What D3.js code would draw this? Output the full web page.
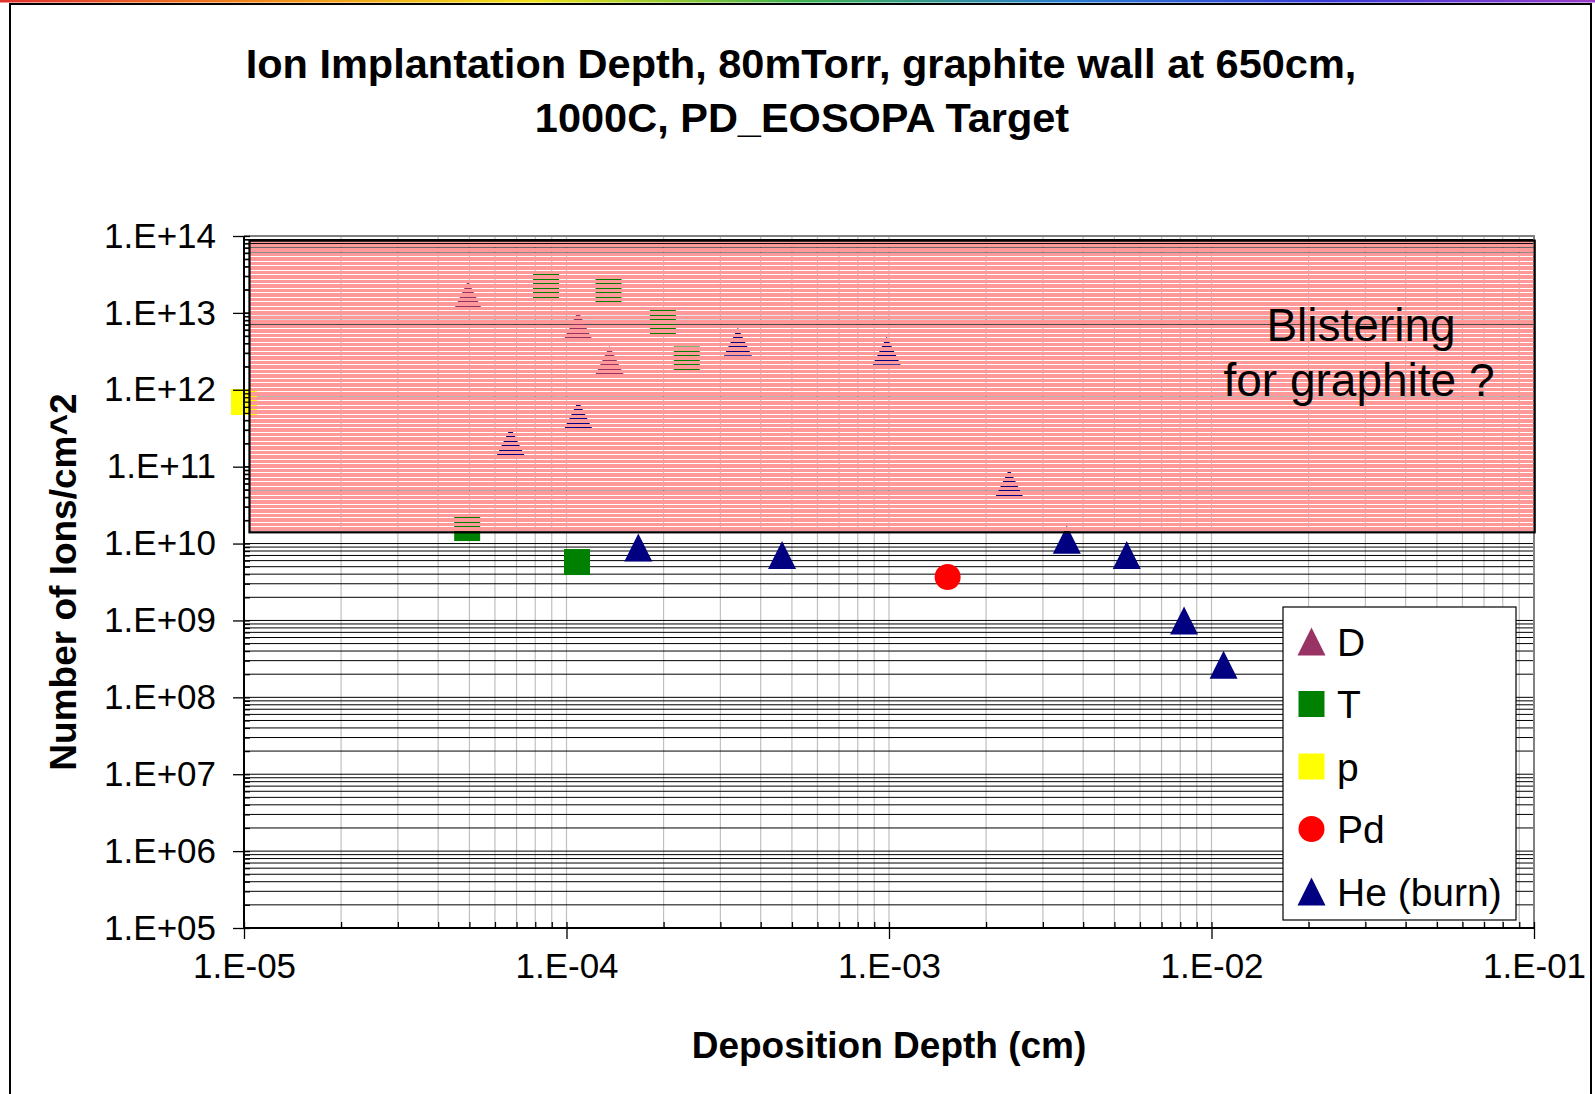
<!DOCTYPE html>
<html>
<head>
<meta charset="utf-8">
<script src="https://cdn.jsdelivr.net/npm/d3@7"></script>
<style>
  html, body { margin: 0; padding: 0; background: #fff; }
  svg { display: block; }
  text { font-family: "Liberation Sans", Arial, sans-serif; fill: #000; }
</style>
</head>
<body>
<svg id="chart" width="1595" height="1094"></svg>
<script>
// ---- data: implanted ion counts vs. deposition depth ----
const dDepth  = [4.95e-5, 1.086e-4, 1.36e-4];
const dIons   = [1.71e13, 6.96e12, 2.44e12];

const tDepth  = [4.92e-5, 8.64e-5, 1.078e-4, 1.35e-4, 1.99e-4, 2.36e-4];
const tIons   = [1.59e10, 2.17e13, 5.75e9, 1.93e13, 7.4e12, 2.48e12];

const pDepth  = [1.0e-5];
const pIons   = [6.93e11];

const pdDepth = [1.52e-3];
const pdIons  = [3.67e9];

const heDepth = [6.71e-5, 1.088e-4, 1.67e-4, 3.40e-4, 4.66e-4, 9.84e-4, 2.36e-3, 3.56e-3, 5.46e-3, 8.22e-3, 1.09e-2];
const heIons  = [2.12e11, 4.74e11, 8.9e9, 4.22e12, 7.1e9, 3.22e12, 6.13e10, 1.12e10, 7.1e9, 1.0e9, 2.66e8];

const seriesNames = ["D", "T", "p", "Pd", "He (burn)"];

// tick labels
const xTickValues = [1e-5, 1e-4, 1e-3, 1e-2, 1e-1];
const xTickLabels = ["1.E-05", "1.E-04", "1.E-03", "1.E-02", "1.E-01"];
const yTickValues = [1e5, 1e6, 1e7, 1e8, 1e9, 1e10, 1e11, 1e12, 1e13, 1e14];
const yTickLabels = ["1.E+05", "1.E+06", "1.E+07", "1.E+08", "1.E+09", "1.E+10", "1.E+11", "1.E+12", "1.E+13", "1.E+14"];

// shaded "blistering" zone (depth range, ion-count range)
const blisterDepth = [1.04e-5, 1.005e-1];
const blisterIons  = [1.4e10, 8.7e13];
const blisterText  = ["Blistering", "for graphite ?"];

const titleLines = ["Ion Implantation Depth, 80mTorr, graphite wall at 650cm,", "1000C, PD_EOSOPA Target"];
const xTitle = "Deposition Depth (cm)";
const yTitle = "Number of Ions/cm^2";

// ---- layout ----
const svg = d3.select("#chart");
const plot = { left: 244, right: 1534, top: 236, bottom: 928 };

const x = d3.scaleLog().domain([1e-5, 1e-1]).range([plot.left, plot.right]);
const y = d3.scaleLog().domain([1e5, 1e14]).range([plot.bottom, plot.top]);

// minor tick values (2..9 per decade)
function minorValues(lo, hi) {
  const out = [];
  for (let e = lo; e < hi; e++) for (let m = 2; m <= 9; m++) out.push(m * Math.pow(10, e));
  return out;
}
const xMinor = minorValues(-5, -1);
const yMinor = minorValues(5, 14);
const xAll = xMinor.concat(xTickValues);
const yAll = yMinor.concat(yTickValues);

const defs = svg.append("defs");

// rainbow strip along the top edge
const rg = defs.append("linearGradient").attr("id", "rainbow");
["#e0312f", "#f08a1c", "#f2e21b", "#3fb34f", "#2a7fd0", "#3b3bd6", "#9b3fc8"].forEach((c, i, a) =>
  rg.append("stop").attr("offset", i / (a.length - 1)).attr("stop-color", c));
svg.append("rect").attr("x", 0).attr("y", 0).attr("width", 1595).attr("height", 2.5).attr("fill", "url(#rainbow)");

// outer chart frame
svg.append("rect").attr("x", 10).attr("y", 4).attr("width", 1581).attr("height", 1100)
  .attr("fill", "#fff").attr("stroke", "#000").attr("stroke-width", 2);

// striped pink fill pattern with see-through one-pixel gaps
const pat = defs.append("pattern").attr("id", "stripes").attr("patternUnits", "userSpaceOnUse")
  .attr("width", 8).attr("height", 9);
pat.append("rect").attr("x", 0).attr("y", 1).attr("width", 8).attr("height", 3).attr("fill", "#ff9999")
  .attr("shape-rendering", "crispEdges");
pat.append("rect").attr("x", 0).attr("y", 5).attr("width", 8).attr("height", 4).attr("fill", "#ff9999")
  .attr("shape-rendering", "crispEdges");

const bx0 = x(blisterDepth[0]), bx1 = x(blisterDepth[1]);
const by0 = y(blisterIons[1]), by1 = y(blisterIons[0]);

// gridlines
const grid = svg.append("g");
grid.selectAll("line.v").data(xAll.filter(v => v > 1e-5 && v < 1e-1)).join("line")
  .attr("class", "v")
  .attr("x1", d => x(d)).attr("x2", d => x(d))
  .attr("y1", plot.top).attr("y2", plot.bottom)
  .attr("stroke", "#c0c0c0").attr("stroke-width", 1.2);
grid.selectAll("line.h").data(yAll.filter(v => v > 1e5)).join("line")
  .attr("class", "h")
  .attr("x1", plot.left).attr("x2", plot.right)
  .attr("y1", d => y(d)).attr("y2", d => y(d))
  .attr("stroke", "#000").attr("stroke-width", 1);

// plot area border (top / right)
svg.append("path")
  .attr("d", `M${plot.left},${plot.top}H${plot.right}V${plot.bottom}`)
  .attr("fill", "none").attr("stroke", "#808080").attr("stroke-width", 2);

// markers
const tri = "M0,-14L14,14L-14,14Z";
function markerPath(shape) {
  if (shape === "triangle") return tri;
  if (shape === "square") return "M-13,-13H13V13H-13Z";
  return d3.symbol().type(d3.symbolCircle).size(Math.PI * 13 * 13)();
}
const series = [
  { name: seriesNames[0], xs: dDepth,  ys: dIons,  shape: "triangle", color: "#993366" },
  { name: seriesNames[1], xs: tDepth,  ys: tIons,  shape: "square",   color: "#008000" },
  { name: seriesNames[2], xs: pDepth,  ys: pIons,  shape: "square",   color: "#ffff00" },
  { name: seriesNames[3], xs: pdDepth, ys: pdIons, shape: "circle",   color: "#ff0000" },
  { name: seriesNames[4], xs: heDepth, ys: heIons, shape: "triangle", color: "#000080" }
];
const mk = svg.append("g");
series.forEach(s => {
  mk.append("g").selectAll("path").data(s.xs.map((d, i) => [d, s.ys[i]])).join("path")
    .attr("d", markerPath(s.shape))
    .attr("transform", d => `translate(${x(d[0])},${y(d[1])})`)
    .attr("fill", s.color);
});

// blistering zone overlay (gridlines and markers show through the gaps)
svg.append("rect").attr("x", bx0).attr("y", by0).attr("width", bx1 - bx0).attr("height", by1 - by0)
  .attr("fill", "url(#stripes)").attr("stroke", "#000").attr("stroke-width", 2.2);

const bt = svg.append("text").attr("text-anchor", "middle").style("font-size", "46px");
bt.append("tspan").attr("x", 1361).attr("y", 341).text(blisterText[0]);
bt.append("tspan").attr("x", 1359).attr("y", 396).text(blisterText[1]);

// axes
const yAxisMajor = d3.axisLeft(y).tickValues(yTickValues)
  .tickFormat((d, i) => yTickLabels[i]).tickSize(11).tickPadding(17);
const yAxisMinor = d3.axisLeft(y).tickValues(yAll).tickFormat("").tickSize(-6);
const xAxisMajor = d3.axisBottom(x).tickValues(xTickValues)
  .tickFormat((d, i) => xTickLabels[i]).tickSize(11).tickPadding(14);
const xAxisMinor = d3.axisBottom(x).tickValues(xAll).tickFormat("").tickSize(-6);

function styleAxis(g) {
  g.select(".domain").remove();
  g.selectAll(".tick line").attr("stroke", "#000").attr("stroke-width", 1.3);
  g.selectAll(".tick text").style("font-size", "35px").attr("fill", "#000")
    .style("font-family", '"Liberation Sans", Arial, sans-serif');
}
svg.append("g").attr("transform", `translate(${plot.left},0)`).call(yAxisMinor).call(styleAxis);
svg.append("g").attr("transform", `translate(${plot.left},0)`).call(yAxisMajor).call(styleAxis);
svg.append("g").attr("transform", `translate(0,${plot.bottom})`).call(xAxisMinor).call(styleAxis);
svg.append("g").attr("transform", `translate(0,${plot.bottom})`).call(xAxisMajor).call(styleAxis)
  .selectAll(".tick text").attr("dy", "0.71em");

svg.append("line").attr("x1", plot.left).attr("x2", plot.left).attr("y1", plot.top).attr("y2", plot.bottom)
  .attr("stroke", "#000").attr("stroke-width", 2);
svg.append("line").attr("x1", plot.left).attr("x2", plot.right).attr("y1", plot.bottom).attr("y2", plot.bottom)
  .attr("stroke", "#000").attr("stroke-width", 2);

// titles
const tt = svg.append("text").attr("text-anchor", "middle").style("font-size", "41.5px").style("font-weight", "bold");
tt.append("tspan").attr("x", 801).attr("y", 78).text(titleLines[0]);
tt.append("tspan").attr("x", 802).attr("y", 132).text(titleLines[1]);

svg.append("text").attr("text-anchor", "middle").attr("x", (plot.left + plot.right) / 2).attr("y", 1058)
  .style("font-size", "37px").style("font-weight", "bold").text(xTitle);

svg.append("text").attr("text-anchor", "middle")
  .attr("transform", `translate(76,${(plot.top + plot.bottom) / 2}) rotate(-90)`)
  .style("font-size", "37px").style("font-weight", "bold").text(yTitle);

// legend
const lg = svg.append("g");
lg.append("rect").attr("x", 1283).attr("y", 607).attr("width", 233).attr("height", 313)
  .attr("fill", "#fff").attr("stroke", "#000").attr("stroke-width", 1.2);
const legendY = d3.scalePoint().domain(seriesNames).range([641.5, 891.5]);
series.forEach(s => {
  const cy = legendY(s.name);
  lg.append("path").attr("d", markerPath(s.shape)).attr("transform", `translate(1311.5,${cy})`).attr("fill", s.color);
  lg.append("text").attr("x", 1337).attr("y", cy).attr("dy", "0.36em")
    .style("font-size", "39px").text(s.name);
});
</script>
</body>
</html>
